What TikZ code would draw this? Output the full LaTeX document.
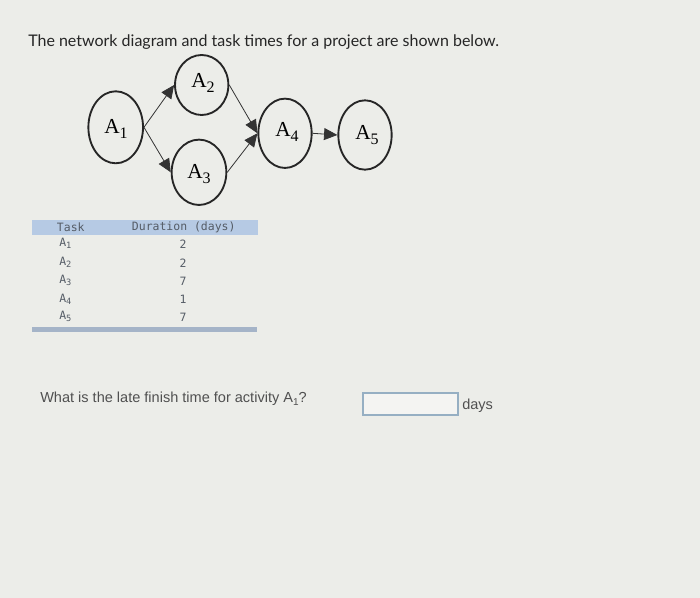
\documentclass[tikz,border=0pt]{standalone}
\usepackage{fontspec}
\setmainfont{Liberation Sans}
\newfontfamily\titlefont{Lato}
\newfontfamily\nodefont{Liberation Serif}
\newfontfamily\tabfont{DejaVu Sans Mono}
\usetikzlibrary{arrows.meta,shapes.geometric}
\definecolor{paper}{RGB}{236,237,233}
\definecolor{headblue}{RGB}{182,202,228}
\definecolor{barblue}{RGB}{165,180,200}
\definecolor{tabtext}{RGB}{85,92,102}
\definecolor{qtext}{RGB}{80,80,80}
\definecolor{boxline}{RGB}{150,175,195}
\tikzset{
  event/.style={ellipse,draw=black!85,line width=1.4pt,inner sep=0pt},
  evlabel/.style={font=\nodefont\fontsize{16}{18}\selectfont,inner sep=0pt},
  link/.style={draw=black!80,line width=0.6pt,-{Triangle[length=10pt,width=9pt]}},
  taskcell/.style={anchor=west,text=tabtext,font=\tabfont\fontsize{8.6}{10}\selectfont,inner sep=0pt},
  durcell/.style={text=tabtext,font=\tabfont\fontsize{8.6}{10}\selectfont,inner sep=0pt}
}
\newcommand{\tsub}[2]{#1\raisebox{-0.35ex}{\fontsize{6.5}{7}\selectfont #2}}
\newcommand{\esub}[1]{A\raisebox{-0.45ex}{\fontsize{12}{13}\selectfont #1}}
\begin{document}
\begin{tikzpicture}[x=0.75pt,y=-0.75pt]
          \fill[paper] (0,0) rectangle (700,598);
          \useasboundingbox (0,0) rectangle (700,598);
          \node[anchor=west,inner sep=0pt,font=\titlefont\fontsize{12}{14}\selectfont,text=black!85] (title) at (28,42) {The network diagram and task times for a project are shown below.};
          % network
          \node[event,minimum width=41pt,minimum height=54pt] (A1) at (115.7,127.3) {};
          \node[event,minimum width=40pt,minimum height=45pt] (A2) at (201.7,85) {};
          \node[event,minimum width=41pt,minimum height=49pt] (A3) at (199,172.3) {};
          \node[event,minimum width=40pt,minimum height=52pt] (A4) at (285,133.3) {};
          \node[event,minimum width=40pt,minimum height=52pt] (A5) at (365,135) {};
          \node[evlabel] (L1) at (116,129) {\esub{1}};
          \node[evlabel] (L2) at (203,83) {\esub{2}};
          \node[evlabel] (L3) at (199,174) {\esub{3}};
          \node[evlabel] (L4) at (287,132) {\esub{4}};
          \node[evlabel] (L5) at (367,135) {\esub{5}};
          \draw[link] (A1.east) -- (A2.west);
          \draw[link] (A1.east) -- (A3.west);
          \draw[link] (A2.east) -- (A4.west);
          \draw[link] (A3.east) -- (A4.west);
          \draw[link] (A4.east) -- (A5.west);
          % table
          \fill[headblue] (31.7,220) rectangle (258,235);
          \fill[barblue] (31.7,327) rectangle (257,332);
          \node[taskcell] (th) at (56.7,227.5) {Task};
          \node[taskcell] (dh) at (131.7,227.5) {Duration (days)};
          \node[taskcell] (t1) at (59,243) {\tsub{A}{1}};  \node[durcell] (d1) at (183,244) {2};
          \node[taskcell] (t2) at (59,262) {\tsub{A}{2}};  \node[durcell] (d2) at (183,263) {2};
          \node[taskcell] (t3) at (59,280) {\tsub{A}{3}};  \node[durcell] (d3) at (183,281) {7};
          \node[taskcell] (t4) at (59,299) {\tsub{A}{4}};  \node[durcell] (d4) at (183,299) {1};
          \node[taskcell] (t5) at (59,316) {\tsub{A}{5}};  \node[durcell] (d5) at (183,317) {7};
          % question
          \node[anchor=west,inner sep=0pt,text=qtext,font=\fontsize{10.9}{12}\selectfont] (q) at (40,399) {What is the late finish time for activity A\raisebox{-0.4ex}{\fontsize{7.5}{8}\selectfont 1}?};
          \draw[boxline,line width=0.8pt,fill=white!40!paper] (363,393) rectangle (458,415);
          \node[anchor=west,inner sep=0pt,text=qtext,font=\fontsize{10.9}{12}\selectfont] (days) at (462,406) {days};
        \end{tikzpicture}
\end{document}
